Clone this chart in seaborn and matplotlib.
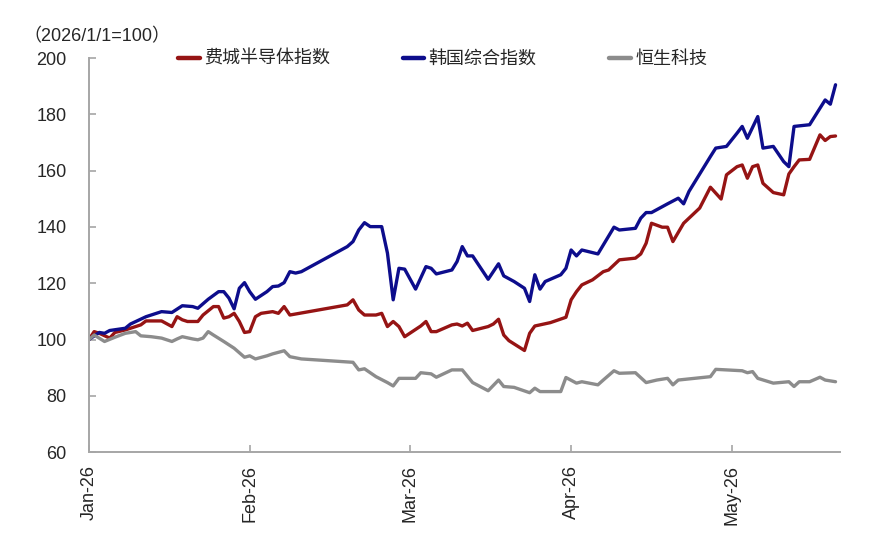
import matplotlib
matplotlib.use("Agg")
import matplotlib.pyplot as plt
import seaborn as sns
import pandas as pd

# ---------------- data ----------------
series_names = ["费城半导体指数", "韩国综合指数", "恒生科技"]
series_colors = ["#961414", "#0D0D8C", "#8C8C8C"]

sox_dates = ["01-01","01-02","01-03","01-05","01-06","01-08","01-09","01-11","01-12","01-15",
             "01-17","01-18","01-19","01-20","01-22","01-23","01-25","01-26","01-27","01-28",
             "01-29","01-30","01-31","02-01","02-02","02-03","02-05","02-06","02-07","02-08",
             "02-18","02-19","02-20","02-21","02-23","02-24","02-25","02-26","02-27","02-28",
             "03-03","03-04","03-05","03-06","03-09","03-10","03-11","03-12","03-13","03-16",
             "03-17","03-18","03-19","03-20","03-23","03-24","03-25","03-26","03-28","03-31",
             "04-01","04-02","04-03","04-05","04-07","04-08","04-10","04-13","04-14","04-15",
             "04-16","04-18","04-19","04-20","04-22","04-25","04-27","04-29","04-30","05-02",
             "05-03","05-04","05-05","05-06","05-07","05-09","05-11","05-12","05-13","05-14",
             "05-16","05-18","05-19","05-20","05-21"]
sox_vals = [100.0,102.8,102.2,100.5,102.5,103.4,104.0,105.2,106.6,106.6,
            104.6,108.1,107.0,106.4,106.4,108.7,111.7,111.7,107.6,108.1,
            109.3,106.4,102.5,102.8,108.1,109.3,109.9,109.3,111.7,108.7,
            112.3,114.1,110.5,108.7,108.7,109.3,104.6,106.4,104.6,101.0,
            104.8,106.4,102.8,102.8,105.2,105.5,104.8,105.8,103.2,104.6,
            105.5,107.2,101.6,99.6,96.1,102.2,104.8,105.2,106.0,107.9,
            114.1,117.0,119.4,121.2,124.1,124.7,128.3,128.9,130.4,134.2,
            141.3,139.9,139.9,134.8,141.3,146.7,154.1,149.9,158.5,161.4,
            162.0,157.3,161.4,162.0,155.5,152.2,151.4,158.8,161.4,163.8,
            164.0,172.7,170.7,172.1,172.3]

kospi_dates = ["01-01","01-03","01-04","01-05","01-08","01-09","01-12","01-14","01-15","01-17",
               "01-18","01-19","01-21","01-22","01-24","01-26","01-27","01-28","01-29","01-30",
               "01-31","02-01","02-02","02-04","02-05","02-06","02-07","02-08","02-09","02-10",
               "02-18","02-19","02-20","02-21","02-22","02-24","02-25","02-26","02-27","02-28",
               "03-02","03-04","03-05","03-06","03-09","03-10","03-11","03-12","03-13","03-16",
               "03-18","03-19","03-21","03-23","03-24","03-25","03-26","03-27","03-30","03-31",
               "04-01","04-02","04-03","04-06","04-09","04-10","04-13","04-14","04-15","04-16",
               "04-19","04-21","04-22","04-23","04-27","04-28","04-30","05-02","05-03","05-04",
               "05-06","05-07","05-09","05-11","05-12","05-13","05-16","05-19","05-20","05-21"]
kospi_vals = [100.0,102.5,102.2,103.2,104.0,105.5,108.1,109.3,109.9,109.6,
              110.8,112.0,111.7,111.1,114.3,117.0,117.0,114.7,110.9,118.2,
              120.2,117.0,114.3,117.0,118.8,119.0,120.2,124.1,123.6,124.1,
              133.0,134.8,138.9,141.5,140.1,140.1,130.7,114.1,125.3,125.0,
              117.9,125.9,125.3,123.3,124.7,127.7,133.0,129.7,129.7,121.4,
              126.9,122.6,120.6,118.2,113.5,123.0,117.9,120.6,123.0,125.3,
              131.8,129.7,131.8,130.4,139.9,138.9,139.5,143.1,145.1,145.1,
              148.2,150.2,148.2,152.6,165.0,168.0,168.6,173.3,175.7,171.5,
              179.2,168.0,168.6,163.2,161.4,175.7,176.3,185.1,183.6,190.5]

hstech_dates = ["01-01","01-02","01-04","01-06","01-08","01-10","01-11","01-13","01-15","01-17",
                "01-18","01-19","01-21","01-22","01-23","01-24","01-25","01-27","01-29","01-31",
                "02-01","02-02","02-04","02-05","02-07","02-08","02-10","02-19","02-20","02-21",
                "02-23","02-25","02-26","02-27","02-28","03-02","03-03","03-05","03-06","03-09",
                "03-11","03-13","03-16","03-18","03-19","03-21","03-24","03-25","03-26","03-30",
                "03-31","04-02","04-03","04-06","04-07","04-09","04-10","04-13","04-15","04-17",
                "04-19","04-20","04-21","04-27","04-28","04-30","05-03","05-04","05-05","05-06",
                "05-09","05-12","05-13","05-14","05-16","05-18","05-19","05-21"]
hstech_vals = [100.0,101.6,99.3,100.8,102.2,102.8,101.3,101.0,100.5,99.3,
               100.2,101.0,100.2,99.9,100.5,102.8,101.6,99.3,96.9,93.7,
               94.2,93.1,94.2,94.9,96.0,93.9,93.1,91.9,89.2,89.6,
               86.8,84.7,83.5,86.2,86.2,86.2,88.2,87.8,86.6,89.2,
               89.2,84.7,81.8,85.6,83.3,83.0,81.1,82.7,81.5,81.5,
               86.5,84.5,85.0,83.9,85.6,88.9,88.0,88.2,84.7,85.6,
               86.2,83.9,85.6,86.8,89.4,89.2,88.9,88.2,88.6,86.2,
               84.5,85.0,83.3,85.0,85.0,86.6,85.6,85.0]

month_ticks = ["Jan-26", "Feb-26", "Mar-26", "Apr-26", "May-26"]
y_ticks = [60, 80, 100, 120, 140, 160, 180, 200]
unit_label = "（2026/1/1=100）"

# ---------------- build frame ----------------
frames = []
for name, d, v in zip(series_names, [sox_dates, kospi_dates, hstech_dates],
                      [sox_vals, kospi_vals, hstech_vals]):
    dt = pd.to_datetime(["2026-" + s for s in d])
    pos = (dt.month - 1) + (dt.day - 1) / dt.days_in_month
    frames.append(pd.DataFrame({"pos": pos, "value": v, "series": name}))
df = pd.concat(frames, ignore_index=True)

# ---------------- style ----------------
sns.set_style("white")
plt.rcParams["font.family"] = ["Liberation Sans", "Noto Sans CJK SC", "DejaVu Sans"]

fig = plt.figure(figsize=(8.96, 5.5), dpi=100)
ax = fig.add_axes([0.0993, 0.178, 0.8382, 0.7165])

sns.lineplot(data=df, x="pos", y="value", hue="series", hue_order=series_names,
             palette=dict(zip(series_names, series_colors)), linewidth=2.4,
             ax=ax, legend=True, estimator=None)

ax.set_xlim(0, 4.673)
ax.set_ylim(60, 200)
ax.set_xticks(range(len(month_ticks)))
ax.set_xticklabels(month_ticks, rotation=90, fontsize=13)
ax.set_yticks(y_ticks)
ax.set_yticklabels([str(t) for t in y_ticks], fontsize=13)
ax.set_xlabel("")
ax.set_ylabel("")

for s in ["top", "right"]:
    ax.spines[s].set_visible(False)
for s in ["left", "bottom"]:
    ax.spines[s].set_color("#A6A6A6")
    ax.spines[s].set_linewidth(1.4)

ax.tick_params(axis="y", direction="in", length=5, width=1.2, color="#A6A6A6",
               pad=16, left=True)
ax.tick_params(axis="x", direction="in", length=5, width=1.2, color="#A6A6A6",
               pad=9, bottom=True)

# legend
handles, labels = ax.get_legend_handles_labels()
ax.legend_.remove()
for h in handles:
    h.set_linewidth(3.2)
fig.legend(handles, labels, loc="center", bbox_to_anchor=(0.494, 0.893), ncol=3,
           frameon=False, handlelength=1.2, handletextpad=0.25,
           columnspacing=4.0, prop={"family": ["Noto Sans CJK SC"], "size": 13})

fig.text(0.026, 0.934, unit_label, fontsize=13, ha="left", va="center",
         family=["Liberation Sans", "Noto Sans CJK SC"])

fig.savefig("out.png", dpi=100, facecolor="white")
